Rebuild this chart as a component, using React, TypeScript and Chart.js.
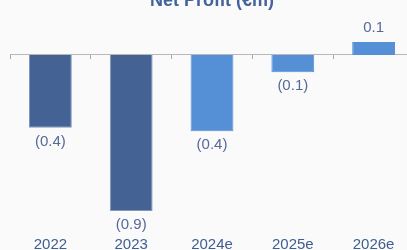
import React, { useEffect, useRef } from "react";
import { Chart, registerables } from "chart.js";

Chart.register(...registerables);

const categories = ["2022", "2023", "2024e", "2025e", "2026e"];
const netProfit = [-0.42, -0.9, -0.44, -0.1, 0.075];
const barColors = ["#446394", "#446394", "#5590d6", "#5590d6", "#5590d6"];
const barBorders = ["#8298bd", "#8298bd", "#5590d6", "#5590d6", "#5590d6"];
const titleText = "Net Profit (€m)";

const FONT = "'Liberation Sans', Arial, sans-serif";

const fmt = (v: number) => (v < 0 ? `(${Math.abs(v).toFixed(1)})` : v.toFixed(1));

const valueLabels = {
  id: "valueLabels",
  afterDatasetsDraw(chart: any) {
    const ctx = chart.ctx;
    const meta = chart.getDatasetMeta(0);
    const data = chart.data.datasets[0].data as number[];
    ctx.save();
    ctx.font = `15px ${FONT}`;
    ctx.fillStyle = "#56699a";
    ctx.textAlign = "center";
    ctx.textBaseline = "middle";
    meta.data.forEach((bar: any, i: number) => {
      const v = data[i];
      const y = v < 0 ? bar.y + 14 : bar.y - 14;
      ctx.fillText(fmt(v), bar.x, y);
    });
    ctx.restore();
  },
};

export default function App() {
  const ref = useRef<HTMLCanvasElement>(null);
  useEffect(() => {
    if (!ref.current) return;
    const chart = new Chart(ref.current, {
      type: "bar",
      data: {
        labels: categories,
        datasets: [
          {
            data: netProfit,
            backgroundColor: barColors,
            borderColor: barBorders,
            borderWidth: 1,
            barPercentage: 0.53,
            categoryPercentage: 1,
            xAxisID: "x",
          },
        ],
      },
      options: {
        animation: false,
        responsive: false,
        layout: { padding: { left: 10, right: 10, top: 0, bottom: 0.67 } },
        plugins: {
          legend: { display: false },
          tooltip: { enabled: false },
          title: {
            display: true,
            text: titleText,
            color: "#44639a",
            font: { family: FONT, size: 18, weight: "bold" },
            padding: { top: 0, bottom: 8.73 },
          },
        },
        scales: {
          y: {
            display: false,
            min: -1.0,
            max: 0.2,
          },
          x: {
            type: "category",
            position: { y: 0 } as any,
            offset: true,
            afterFit: (scale: any) => {
              scale.height = 0;
            },
            grid: {
              offset: true,
              drawOnChartArea: false,
              drawTicks: true,
              tickLength: 4,
              color: "#a8a8a8",
            },
            border: { display: true, color: "#b8b8b8", width: 1 },
            ticks: { display: false },
          },
          x2: {
            type: "category",
            position: "bottom",
            offset: true,
            grid: { display: false, drawTicks: false },
            border: { display: false },
            ticks: {
              padding: 8,
              color: "#3f5e90",
              font: { family: FONT, size: 15 },
              maxRotation: 0,
              autoSkip: false,
            },
          },
        },
      },
      plugins: [valueLabels],
    });
    return () => chart.destroy();
  }, []);

  return (
    <div
      style={{
        position: "fixed",
        left: 0,
        top: 0,
        width: 407,
        height: 250,
        overflow: "hidden",
        background: "#fafafa",
      }}
    >
      <div style={{ position: "absolute", left: 0, top: -10, width: 424, height: 273 }}>
        <canvas ref={ref} width={424} height={273} style={{ width: 424, height: 273, display: "block" }} />
      </div>
    </div>
  );
}
